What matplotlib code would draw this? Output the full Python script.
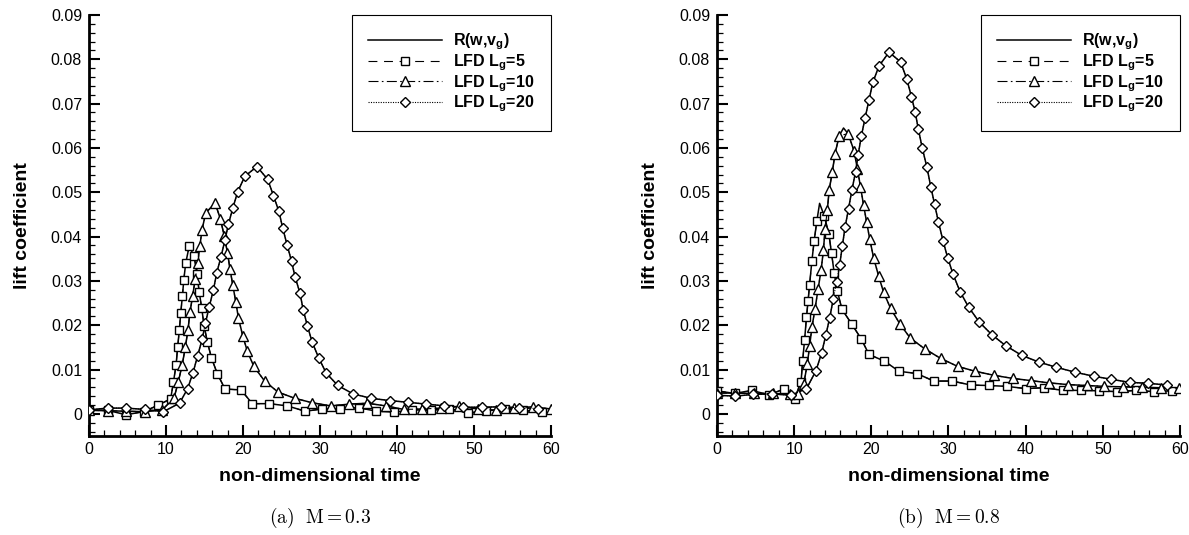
import matplotlib.pyplot as plt
from matplotlib.lines import Line2D
from matplotlib.ticker import MultipleLocator, FuncFormatter

plt.rcParams['font.family'] = 'Liberation Sans'
plt.rcParams['mathtext.fontset'] = 'custom'
plt.rcParams['mathtext.rm'] = 'Liberation Sans:bold'
plt.rcParams['mathtext.it'] = 'Liberation Sans:bold'
plt.rcParams['mathtext.bf'] = 'Liberation Sans:bold'

# ---- (a) M = 0.3 : LFD samples (symbols) ----
t_a5 = [0.0, 2.4, 4.8, 7.1, 8.9, 10.6, 10.95, 11.3, 11.5, 11.73, 11.9, 12.12, 12.3, 12.55, 13.0,
        13.65, 14.0, 14.3, 14.63, 14.94, 15.35, 15.9, 16.67, 17.66, 19.74, 21.2, 23.4, 25.75,
        28.05, 30.3, 32.6, 35.0, 37.3, 39.65, 42.0, 44.4, 46.8, 49.2, 51.6, 54.0, 56.3, 58.8]
cl_a5 = [0.0009, 0.0008, -0.0002, 0.0005, 0.0019, 0.0034, 0.0071, 0.0110, 0.0150, 0.0190, 0.0227,
         0.0265, 0.0302, 0.0340, 0.0378, 0.0356, 0.0316, 0.0276, 0.0238, 0.0199, 0.0163, 0.0126,
         0.0090, 0.0056, 0.0054, 0.0023, 0.0023, 0.0018, 0.0006, 0.0011, 0.0012, 0.0014, 0.0006,
         0.0004, 0.0009, 0.0008, 0.0012, 0.0002, 0.0007, 0.0011, 0.0008, 0.0004]

t_a10 = [0.0, 2.4, 4.8, 7.2, 9.5, 11.04, 11.6, 12.1, 12.5, 12.85, 13.1, 13.45, 13.8, 14.1, 14.4,
         14.65, 15.15, 16.36, 17.05, 17.55, 17.97, 18.3, 18.66, 19.05, 19.4, 19.96, 20.56, 21.4,
         22.8, 24.55, 26.75, 29.0, 31.4, 33.8, 36.1, 38.55, 40.85, 43.25, 45.7, 48.1, 50.5, 52.9,
         55.2, 57.6, 60.0]
cl_a10 = [0.0008, 0.0007, 0.0006, 0.0005, 0.0009, 0.0036, 0.0073, 0.0111, 0.0150, 0.0190, 0.0229,
          0.0266, 0.0305, 0.0341, 0.0379, 0.0414, 0.0453, 0.0476, 0.0440, 0.0402, 0.0364, 0.0327,
          0.0291, 0.0253, 0.0216, 0.0176, 0.0141, 0.0107, 0.0074, 0.0049, 0.0035, 0.0025, 0.0018,
          0.0022, 0.0024, 0.0018, 0.0010, 0.0011, 0.0013, 0.0017, 0.0011, 0.0008, 0.0013, 0.0016,
          0.0011]

t_a20 = [0.0, 2.4, 4.8, 7.27, 9.65, 11.75, 12.8, 13.5, 14.1, 14.7, 15.1, 15.6, 16.15, 16.58, 17.14,
         17.66, 18.1, 18.66, 19.3, 20.23, 21.8, 23.2, 23.95, 24.65, 25.15, 25.72, 26.3, 26.75,
         27.4, 27.8, 28.35, 28.95, 29.8, 30.8, 32.3, 34.3, 36.65, 39.05, 41.45, 43.8, 46.15, 48.6,
         51.0, 53.45, 55.8, 58.3]
cl_a20 = [0.0009, 0.0013, 0.0013, 0.0010, 0.0005, 0.0024, 0.0057, 0.0093, 0.0131, 0.0169, 0.0204,
          0.0241, 0.0280, 0.0318, 0.0355, 0.0393, 0.0428, 0.0464, 0.0501, 0.0536, 0.0558, 0.0529,
          0.0492, 0.0457, 0.0419, 0.0381, 0.0344, 0.0309, 0.0272, 0.0235, 0.0199, 0.0163, 0.0127,
          0.0092, 0.0064, 0.0045, 0.0035, 0.0030, 0.0026, 0.0022, 0.0018, 0.0015, 0.0015, 0.0016,
          0.0014, 0.0012]

# ---- (b) M = 0.8 : LFD samples (symbols) ----
t_b5 = [0.0, 2.3, 4.5, 6.7, 8.7, 10.05, 10.9, 11.1, 11.35, 11.6, 11.8, 12.0, 12.3, 12.6, 12.95,
        13.9, 14.5, 14.85, 15.2, 15.6, 16.2, 17.45, 18.7, 19.7, 21.7, 23.6, 25.9, 28.1, 30.5,
        32.9, 35.2, 37.6, 40.0, 42.4, 44.8, 47.2, 49.5, 51.9, 54.3, 56.6, 59.0]
cl_b5 = [0.0052, 0.0046, 0.0053, 0.0043, 0.0056, 0.0034, 0.0073, 0.0119, 0.0166, 0.0218, 0.0254,
         0.0291, 0.0345, 0.0391, 0.0436, 0.0447, 0.0406, 0.0362, 0.0317, 0.0277, 0.0236, 0.0203,
         0.0169, 0.0134, 0.0119, 0.0096, 0.0091, 0.0074, 0.0074, 0.0065, 0.0064, 0.0062, 0.0057,
         0.0059, 0.0053, 0.0053, 0.0052, 0.0050, 0.0053, 0.0050, 0.0052]

t_b10 = [0.0, 2.4, 4.8, 7.2, 9.5, 10.5, 11.25, 11.7, 12.0, 12.3, 12.7, 13.1, 13.5, 13.8, 14.0, 14.3,
         14.55, 14.95, 15.3, 15.85, 17.0, 17.75, 18.2, 18.6, 19.0, 19.4, 19.8, 20.3, 20.95, 21.6,
         22.5, 23.7, 25.05, 26.9, 29.0, 31.2, 33.5, 35.9, 38.3, 40.7, 43.0, 45.5, 47.9, 50.2,
         52.6, 55.1, 57.5, 59.9]
cl_b10 = [0.0047, 0.0047, 0.0046, 0.0046, 0.0045, 0.0044, 0.0068, 0.0112, 0.0152, 0.0195, 0.0236,
          0.0281, 0.0325, 0.0370, 0.0416, 0.0460, 0.0506, 0.0546, 0.0587, 0.0628, 0.0632, 0.0594,
          0.0553, 0.0512, 0.0471, 0.0432, 0.0394, 0.0352, 0.0311, 0.0274, 0.0238, 0.0203, 0.0171,
          0.0147, 0.0125, 0.0107, 0.0096, 0.0087, 0.0080, 0.0075, 0.0070, 0.0066, 0.0064, 0.0062,
          0.0061, 0.0060, 0.0059, 0.0058]

t_b20 = [0.0, 2.4, 4.7, 7.1, 9.6, 11.6, 12.8, 13.56, 14.1, 14.6, 15.07, 15.5, 15.9, 16.25, 16.6,
         17.05, 17.5, 17.96, 18.3, 18.7, 19.2, 19.7, 20.2, 21.0, 22.3, 23.8, 24.6, 25.2, 25.7,
         26.1, 26.6, 27.2, 27.7, 28.2, 28.7, 29.3, 29.9, 30.6, 31.5, 32.6, 34.0, 35.6, 37.4, 39.5,
         41.7, 44.0, 46.4, 48.8, 51.1, 53.5, 55.9, 58.3]
cl_b20 = [0.0042, 0.0040, 0.0044, 0.0045, 0.0042, 0.0057, 0.0096, 0.0137, 0.0177, 0.0216, 0.0259,
          0.0298, 0.0336, 0.0379, 0.0421, 0.0463, 0.0506, 0.0546, 0.0585, 0.0626, 0.0668, 0.0708,
          0.0748, 0.0785, 0.0816, 0.0794, 0.0755, 0.0716, 0.0680, 0.0642, 0.0600, 0.0557, 0.0513,
          0.0473, 0.0433, 0.0390, 0.0352, 0.0315, 0.0276, 0.0241, 0.0207, 0.0179, 0.0154, 0.0132,
          0.0117, 0.0105, 0.0094, 0.0085, 0.0078, 0.0071, 0.0069, 0.0065]

# reference R(w,v_g) curves follow the symbols except at these peaks
r_peaks_a = [[], [], []]
r_peaks_b = [[(13.3, 0.0475)], [(16.4, 0.0645)], []]

labels = ['R(w,v$_\\mathbf{g}$)', 'LFD L$_\\mathbf{g}$=5', 'LFD L$_\\mathbf{g}$=10',
          'LFD L$_\\mathbf{g}$=20']
markers = ['s', '^', 'D']
msizes = [5.5, 6.5, 5.5]
styles = [(0, (8, 6)), (0, (9, 3, 1.5, 3)), (0, (1, 1.2))]


def draw_panel(ax, series, peaks):
    for (t, cl), extra in zip(series, peaks):
        pts = sorted(list(zip(t, cl)) + extra)
        ax.plot([p[0] for p in pts], [p[1] for p in pts], '-', color='k', lw=1.1, zorder=2)
    for (t, cl), m, ms, ls in zip(series, markers, msizes, styles):
        ax.plot(t, cl, linestyle=ls, color='k', lw=0.8, marker=m, ms=ms,
                mfc='white', mec='k', mew=1.0, zorder=3)

    ax.set_xlim(0, 60)
    ax.set_ylim(-0.005, 0.09)
    ax.xaxis.set_major_locator(MultipleLocator(10))
    ax.xaxis.set_minor_locator(MultipleLocator(2))
    ax.yaxis.set_major_locator(MultipleLocator(0.01))
    ax.yaxis.set_minor_locator(MultipleLocator(0.002))
    ax.yaxis.set_major_formatter(FuncFormatter(lambda v, p: f'{round(v, 4):g}'))
    for s in ['top', 'right']:
        ax.spines[s].set_visible(False)
    for s in ['left', 'bottom']:
        ax.spines[s].set_linewidth(2.0)
    ax.tick_params(which='both', direction='in', top=False, right=False, labelsize=11.5)
    ax.tick_params(which='major', length=8, width=1.5)
    ax.tick_params(which='minor', length=4.5, width=0.9)
    ax.tick_params(axis='x', pad=4)
    ax.tick_params(axis='y', pad=5)
    ax.set_xlabel('non-dimensional time', fontsize=14, fontweight='bold')
    ax.set_ylabel('lift coefficient', fontsize=14, fontweight='bold')
    ax.xaxis.set_label_coords(0.5, -0.075)
    ax.yaxis.set_label_coords(-0.125, 0.5)

    handles = [Line2D([], [], color='k', lw=1.1)]
    for m, ms, ls in zip(markers, msizes, styles):
        handles.append(Line2D([], [], linestyle=ls, color='k', lw=0.8, marker=m, ms=ms,
                              mfc='white', mec='k', mew=1.0))
    leg = ax.legend(handles, labels, loc='upper right', bbox_to_anchor=(1.0, 1.0),
                    borderaxespad=0, fancybox=False, framealpha=1, edgecolor='k',
                    numpoints=1, handlelength=4.6, handletextpad=0.7, labelspacing=0.0,
                    borderpad=1.05, prop={'weight': 'bold', 'size': 11.5})
    leg.get_frame().set_linewidth(0.8)


fig = plt.figure(figsize=(11.89, 5.35), dpi=100)
ax1 = fig.add_axes([0.0749, 0.185, 0.3886, 0.787])
ax2 = fig.add_axes([0.6030, 0.185, 0.3894, 0.787])

draw_panel(ax1, [(t_a5, cl_a5), (t_a10, cl_a10), (t_a20, cl_a20)], r_peaks_a)
draw_panel(ax2, [(t_b5, cl_b5), (t_b10, cl_b10), (t_b20, cl_b20)], r_peaks_b)

fig.text(0.2692, 0.032, r'$\mathrm{(a)\ \ M = 0.3}$', math_fontfamily='cm', fontsize=14,
         ha='center', va='center')
fig.text(0.7977, 0.032, r'$\mathrm{(b)\ \ M = 0.8}$', math_fontfamily='cm', fontsize=14,
         ha='center', va='center')

fig.savefig('out.png', dpi=100)
